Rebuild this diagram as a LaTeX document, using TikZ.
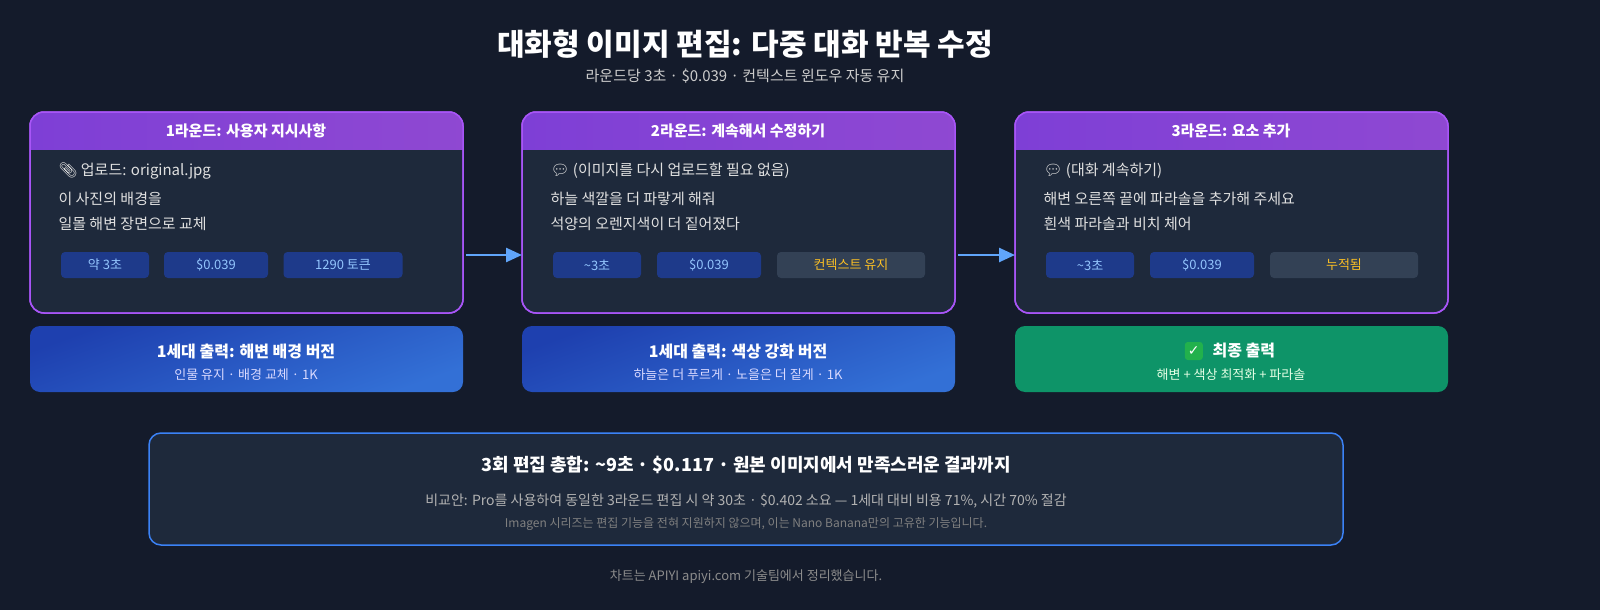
\documentclass[tikz,border=0pt]{standalone}
\usepackage{fontspec}
\setmainfont{Noto Sans CJK KR}
\newfontfamily\emo{Noto Emoji}
\newfontfamily\djv{DejaVu Sans}
\usetikzlibrary{arrows.meta}
\definecolor{bg}{HTML}{141B2B}
\definecolor{card}{HTML}{1E293B}
\definecolor{purp}{HTML}{A855F7}
\definecolor{purh}{HTML}{7E3FD6}
\definecolor{pill}{HTML}{1E3A8A}
\definecolor{pilltxt}{HTML}{93C5FD}
\definecolor{gpill}{HTML}{334155}
\definecolor{amber}{HTML}{FBBF24}
\definecolor{ablue}{HTML}{60A5FA}
\definecolor{outA}{HTML}{1E40AF}
\definecolor{outB}{HTML}{3370D6}
\definecolor{grn}{HTML}{0E9468}
\definecolor{chk}{HTML}{22B14C}
\definecolor{bbord}{HTML}{3B82F6}
\tikzset{
 cardbox/.style={draw=purp,line width=1.5pt,fill=card,rounded corners=14pt},
 pillbox/.style={fill=pill,rounded corners=4pt,text=pilltxt,font=\fontsize{13}{15}\selectfont},
 gpillbox/.style={fill=gpill,rounded corners=4pt,text=amber,font=\fontsize{13}{15}\selectfont},
 body/.style={text=white!88!black,font=\fontsize{15}{18}\selectfont,anchor=west},
 flow/.style={-{Triangle[length=16pt,width=14pt]},draw=ablue,line width=2.5pt},
}
\begin{document}
\begin{tikzpicture}[x=1pt,y=-1pt]
\fill[bg] (0,0) rectangle (1600,610);
\node[text=white,font=\bfseries\fontsize{30}{34}\selectfont] (title) at (745,44) {대화형 이미지 편집: 다중 대화 반복 수정};
\node[text=white!80!black,font=\fontsize{15}{18}\selectfont] (sub) at (745,76) {라운드당 3초 · \$0.039 · 컨텍스트 윈도우 자동 유지};
\foreach \i/\x/\h in {1/30/1라운드: 사용자 지시사항,2/522/2라운드: 계속해서 수정하기,3/1015/3라운드: 요소 추가}{
 \path[cardbox] (\x,112) rectangle ++(433,201);
 \begin{scope}
 \clip[rounded corners=14pt] (\x,112) rectangle ++(433,201);
 \fill[left color=purh,right color=purp!85!black] (\x,112) rectangle ++(433,37);
 \end{scope}
 \draw[purp,line width=1.5pt,rounded corners=14pt] (\x,112) rectangle ++(433,201);
 \node[text=white,font=\bfseries\fontsize{15}{18}\selectfont] (h\i) at (\x+216,131) {\h};
}
\node[body] (a1) at (55,171) {{\emo 📎} 업로드: original.jpg};
\node[body] (a2) at (55,199) {이 사진의 배경을};
\node[body] (a3) at (55,224) {일몰 해변 장면으로 교체};
\node[pillbox,minimum width=88pt,minimum height=26pt] (p11) at (105,265) {약 3초};
\node[pillbox,minimum width=104pt,minimum height=26pt] (p12) at (216,265) {\$0.039};
\node[pillbox,minimum width=119pt,minimum height=26pt] (p13) at (343,265) {1290 토큰};
\node[body] (b1) at (547,171) {{\emo 💬} (이미지를 다시 업로드할 필요 없음)};
\node[body] (b2) at (547,199) {하늘 색깔을 더 파랗게 해줘};
\node[body] (b3) at (547,224) {석양의 오렌지색이 더 짙어졌다};
\node[pillbox,minimum width=88pt,minimum height=26pt] (p21) at (597,265) {\textasciitilde3초};
\node[pillbox,minimum width=104pt,minimum height=26pt] (p22) at (709,265) {\$0.039};
\node[gpillbox,minimum width=148pt,minimum height=26pt] (p23) at (851,265) {컨텍스트 유지};
\node[body] (c1) at (1040,171) {{\emo 💬} (대화 계속하기)};
\node[body] (c2) at (1040,199) {해변 오른쪽 끝에 파라솔을 추가해 주세요};
\node[body] (c3) at (1040,224) {흰색 파라솔과 비치 체어};
\node[pillbox,minimum width=88pt,minimum height=26pt] (p31) at (1090,265) {\textasciitilde3초};
\node[pillbox,minimum width=104pt,minimum height=26pt] (p32) at (1202,265) {\$0.039};
\node[gpillbox,minimum width=148pt,minimum height=26pt] (p33) at (1344,265) {누적됨};
\coordinate (e1) at (466,255); \coordinate (s2) at (522,255);
\coordinate (e2) at (958,255); \coordinate (s3) at (1015,255);
\draw[flow] (e1) -- (s2);
\draw[flow] (e2) -- (s3);
\shade[rounded corners=10pt,top color=outA,bottom color=outB,shading angle=20] (30,326) rectangle (463,392);
\shade[rounded corners=10pt,top color=outA,bottom color=outB,shading angle=20] (522,326) rectangle (955,392);
\fill[rounded corners=10pt,grn] (1015,326) rectangle (1448,392);
\node[text=white,font=\bfseries\fontsize{16}{19}\selectfont] (o1) at (246,352) {1세대 출력: 해변 배경 버전};
\node[text=white!85!blue,font=\fontsize{13}{15}\selectfont] (o1s) at (246,375) {인물 유지 · 배경 교체 · 1K};
\node[text=white,font=\bfseries\fontsize{16}{19}\selectfont] (o2) at (738,352) {1세대 출력: 색상 강화 버전};
\node[text=white!85!blue,font=\fontsize{13}{15}\selectfont] (o2s) at (738,375) {하늘은 더 푸르게 · 노을은 더 짙게 · 1K};
\node[text=white,font=\bfseries\fontsize{16}{19}\selectfont,anchor=west] (o3) at (1209,351) {최종 출력};
\node[fill=chk,text=white,rounded corners=3pt,inner sep=1pt,minimum size=18pt,font=\djv\bfseries\fontsize{14}{16}\selectfont,anchor=east] (chkmark) at (1203,351) {✓};
\node[text=white!90!green,font=\fontsize{13}{15}\selectfont] (o3s) at (1231,375) {해변 + 색상 최적화 + 파라솔};
\draw[bbord,line width=1.5pt,fill=card,rounded corners=12pt] (149,433) rectangle (1343,545);
\node[text=white,font=\bfseries\fontsize{18}{21}\selectfont] (s1) at (746,465) {3회 편집 총합: \textasciitilde9초 · \$0.117 · 원본 이미지에서 만족스러운 결과까지};
\node[text=white!70!black,font=\fontsize{14}{17}\selectfont] (s2t) at (746,501) {비교안: Pro를 사용하여 동일한 3라운드 편집 시 약 30초 · \$0.402 소요 — 1세대 대비 비용 71\%, 시간 70\% 절감};
\node[text=white!50!black,font=\fontsize{12}{14}\selectfont] (s3t) at (746,524) {Imagen 시리즈는 편집 기능을 전혀 지원하지 않으며, 이는 Nano Banana만의 고유한 기능입니다.};
\node[text=white!55!black,font=\fontsize{13}{15}\selectfont] (foot) at (746,577) {차트는 APIYI apiyi.com 기술팀에서 정리했습니다.};
\pgfresetboundingbox
\path[use as bounding box] (0,0) rectangle (1600,610);
\end{tikzpicture}
\end{document}
